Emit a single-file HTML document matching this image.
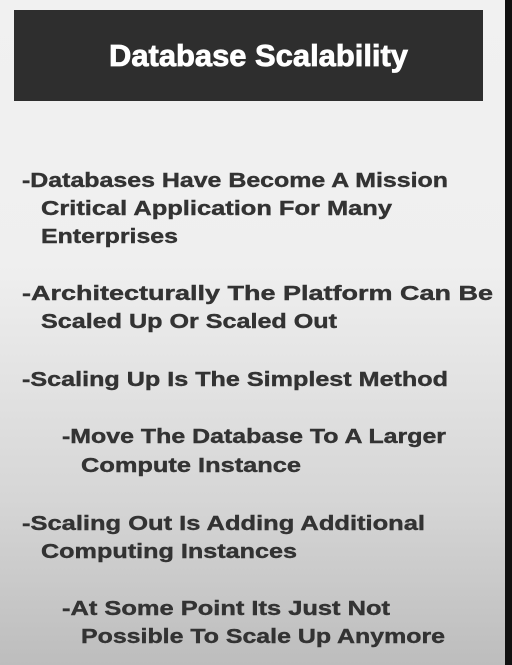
<!DOCTYPE html>
<html><head><meta charset="utf-8"><style>
html,body{margin:0;padding:0;}
body{width:512px;height:665px;overflow:hidden;background:linear-gradient(#f1f1f1 0%,#efefef 40%,#d6d6d6 75%,#bdbdbd 100%);position:relative;}
svg{position:absolute;left:0;top:0;}
</style></head><body>
<svg width="512" height="665" viewBox="0 0 512 665" xmlns="http://www.w3.org/2000/svg">
<rect x="505" y="0" width="7" height="665" fill="#111"/>
<rect x="14" y="10" width="469" height="91" fill="#2e2e2e"/>
<text x="109" y="66" font-family="Liberation Sans, sans-serif" font-weight="bold" font-size="31" fill="#fff" stroke="#fff" stroke-width="0.8" textLength="299" lengthAdjust="spacingAndGlyphs">Database Scalability</text>
<g font-family="Liberation Sans, sans-serif" font-weight="bold" font-size="20" fill="#333" stroke="#333" stroke-width="0.4">
<text x="22" y="187" textLength="426" lengthAdjust="spacingAndGlyphs">-Databases Have Become A Mission</text>
<text x="41" y="215" textLength="351" lengthAdjust="spacingAndGlyphs">Critical Application For Many</text>
<text x="41" y="243" textLength="137" lengthAdjust="spacingAndGlyphs">Enterprises</text>
<text x="22" y="300" textLength="471" lengthAdjust="spacingAndGlyphs">-Architecturally The Platform Can Be</text>
<text x="41" y="328" textLength="296" lengthAdjust="spacingAndGlyphs">Scaled Up Or Scaled Out</text>
<text x="22" y="386" textLength="426" lengthAdjust="spacingAndGlyphs">-Scaling Up Is The Simplest Method</text>
<text x="62" y="443" textLength="384" lengthAdjust="spacingAndGlyphs">-Move The Database To A Larger</text>
<text x="81" y="472" textLength="220" lengthAdjust="spacingAndGlyphs">Compute Instance</text>
<text x="22" y="530" textLength="403" lengthAdjust="spacingAndGlyphs">-Scaling Out Is Adding Additional</text>
<text x="41" y="558" textLength="256" lengthAdjust="spacingAndGlyphs">Computing Instances</text>
<text x="62" y="615" textLength="328" lengthAdjust="spacingAndGlyphs">-At Some Point Its Just Not</text>
<text x="81" y="643" textLength="364" lengthAdjust="spacingAndGlyphs">Possible To Scale Up Anymore</text>
</g>
</svg>
</body></html>
